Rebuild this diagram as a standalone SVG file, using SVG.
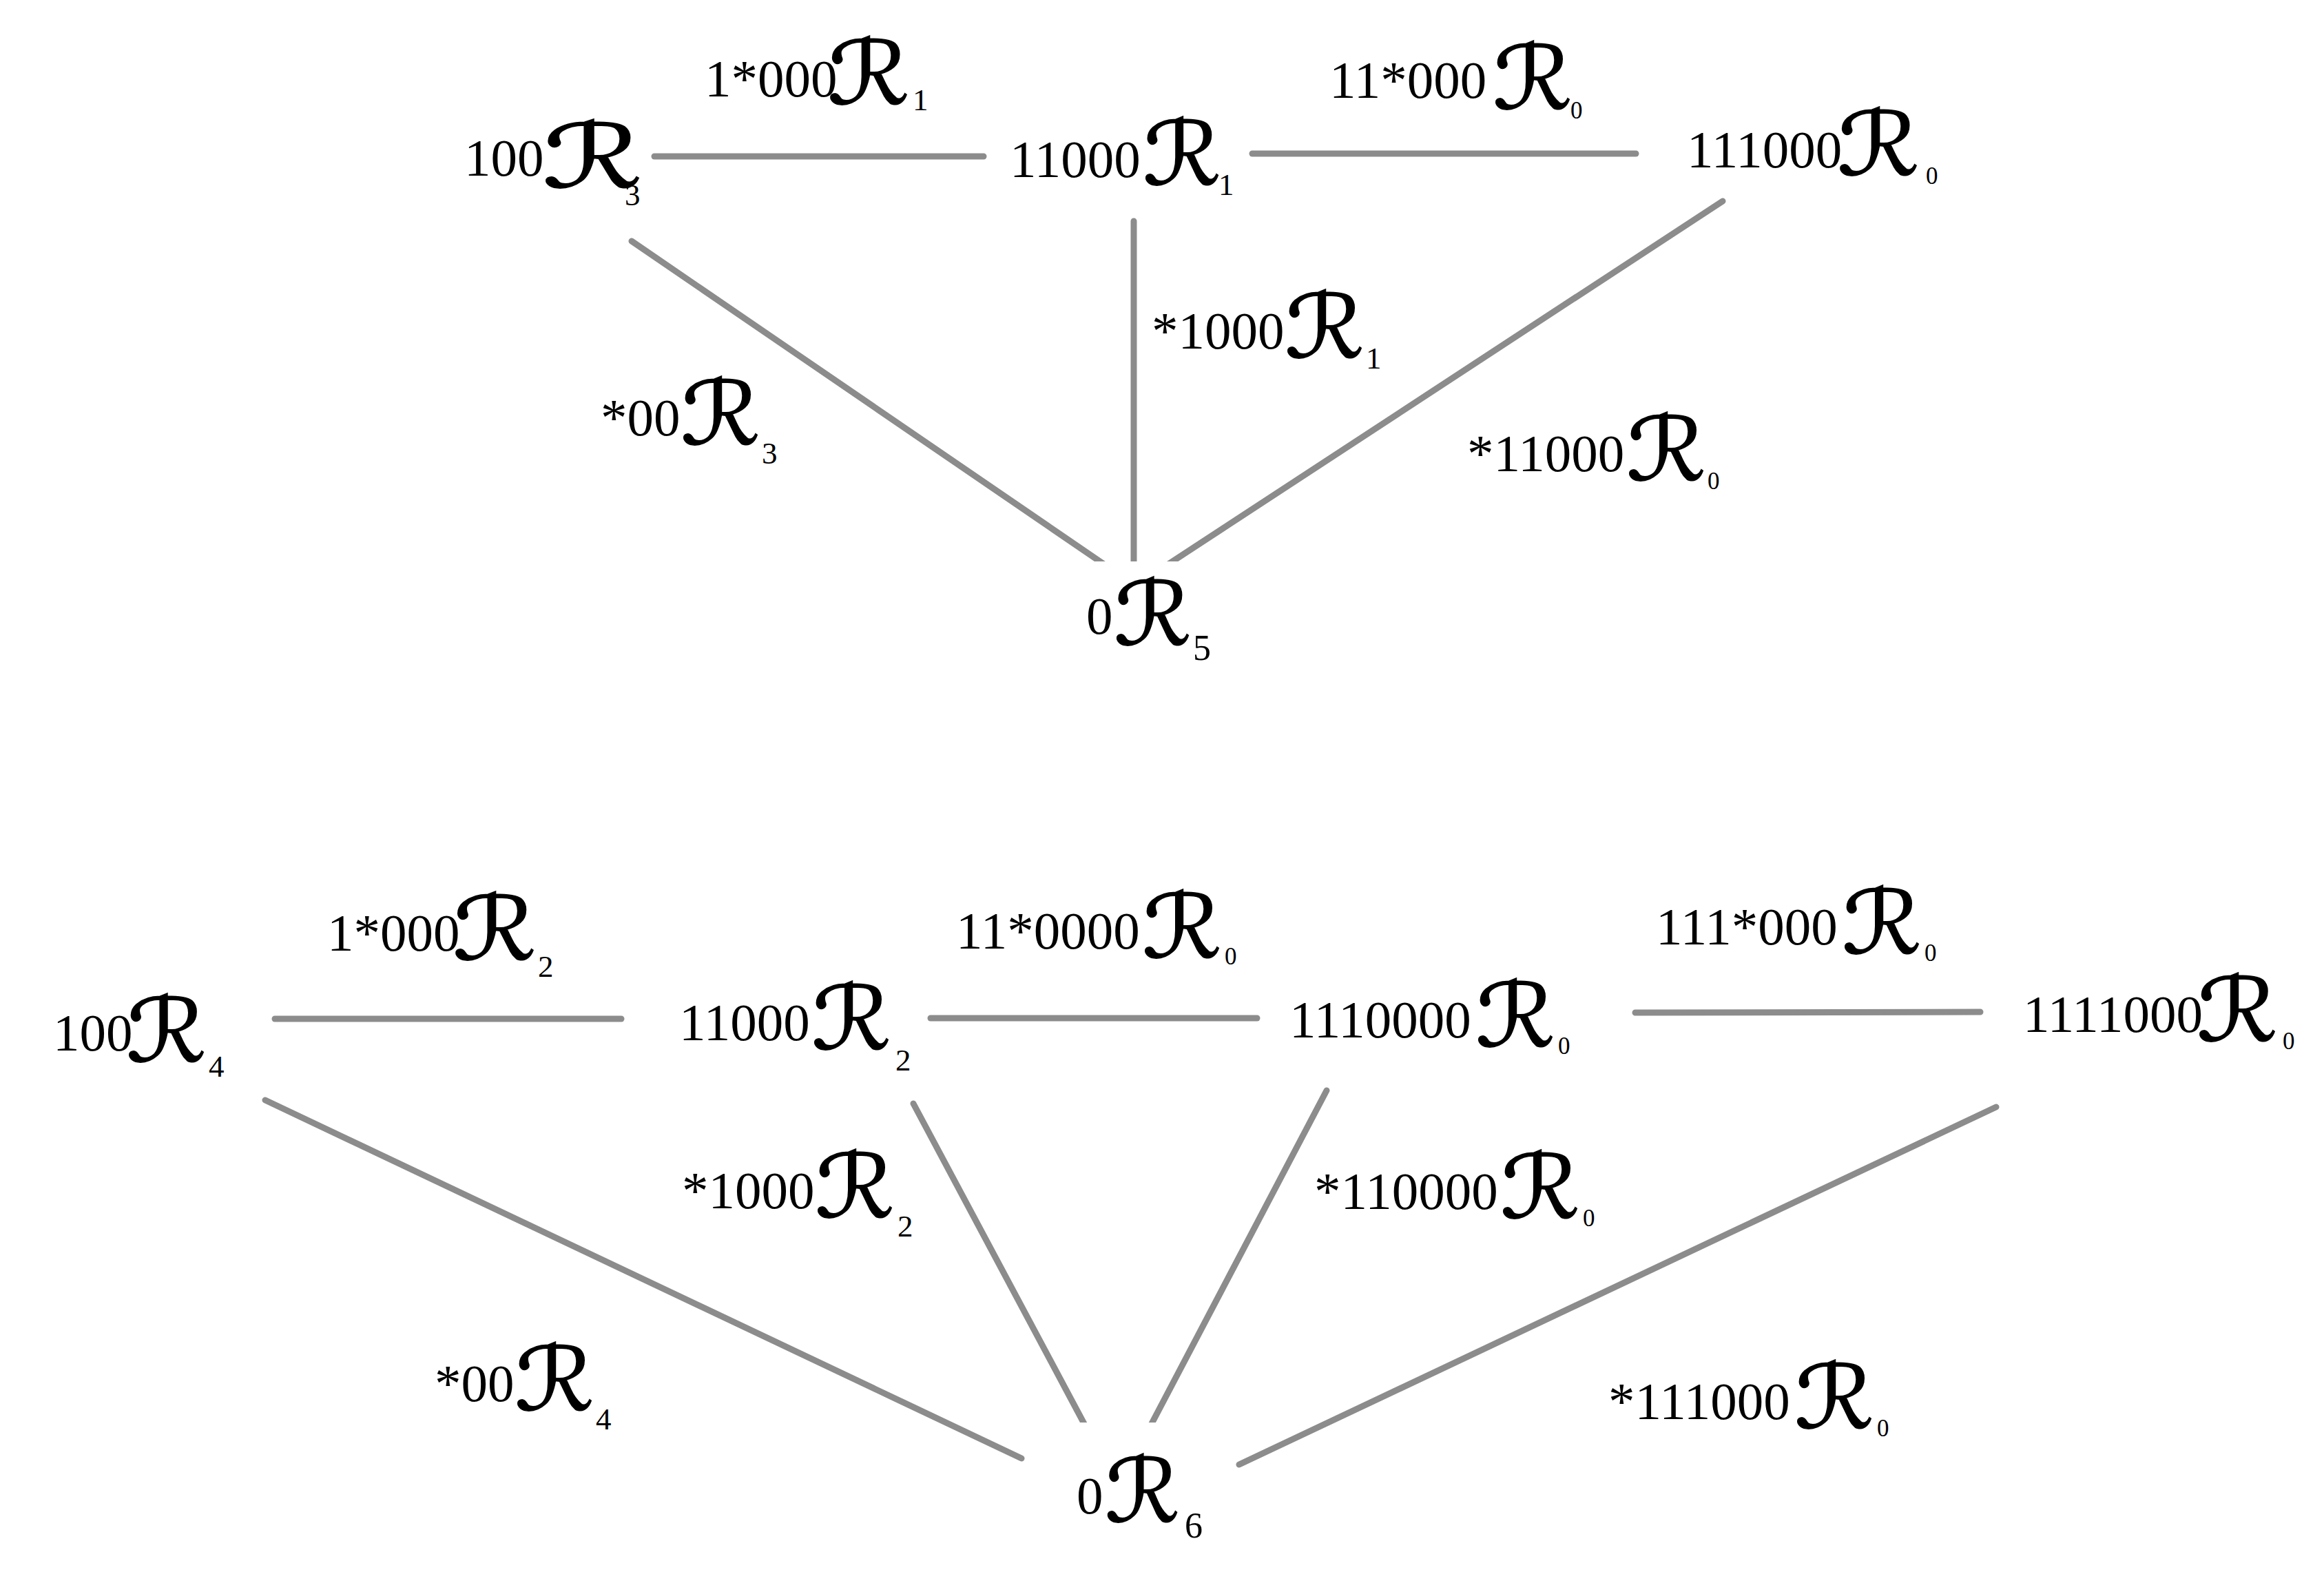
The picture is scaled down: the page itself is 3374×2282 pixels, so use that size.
<svg xmlns="http://www.w3.org/2000/svg" width="3374" height="2282" viewBox="0 0 3374 2282">
<style>
.d{font-family:"Liberation Serif","Times New Roman",serif;font-size:77px;fill:#000}
.r{font-family:"DejaVu Serif","DejaVu Sans",serif;font-size:128px;fill:#000;stroke:#000;stroke-width:1.5}
.s{font-family:"Liberation Serif","Times New Roman",serif;font-size:45px;fill:#000}
.z{font-family:"Liberation Serif","Times New Roman",serif;font-size:35px;fill:#000}
.e{stroke:#8c8c8c;stroke-width:9;stroke-linecap:round;fill:none}
</style>
<defs>
<clipPath id="ct"><rect x="0" y="0" width="3374" height="815"/></clipPath>
<clipPath id="cb"><rect x="0" y="1000" width="3374" height="1065"/></clipPath>
</defs>
<rect width="3374" height="2282" fill="#fff"/>
<g id="connectors">
<line class="e" x1="950" y1="227" x2="1428" y2="227"/>
<line class="e" x1="1818" y1="223" x2="2375" y2="223"/>
<g clip-path="url(#ct)">
<line class="e" x1="917" y1="350" x2="1610" y2="824"/>
<line class="e" x1="1646" y1="321" x2="1646" y2="830"/>
<line class="e" x1="2501" y1="292" x2="1690" y2="823"/>
</g>
<line class="e" x1="399" y1="1479" x2="902" y2="1479"/>
<line class="e" x1="1351" y1="1478" x2="1825" y2="1478"/>
<line class="e" x1="2374" y1="1470" x2="2875" y2="1469"/>
<line class="e" x1="385" y1="1597" x2="1483" y2="2117"/>
<line class="e" x1="2898" y1="1607" x2="1799" y2="2126"/>
<g clip-path="url(#cb)">
<line class="e" x1="1326" y1="1602" x2="1580" y2="2078"/>
<line class="e" x1="1926" y1="1583" x2="1666" y2="2078"/>
</g>
</g>
<g id="n100R3"><text class="d" x="674" y="255">100</text><text class="r" x="787" y="272" textLength="146" lengthAdjust="spacingAndGlyphs">ℛ</text><text class="s" x="907" y="298">3</text></g>
<g id="n11000R1"><text class="d" x="1466" y="257">11000</text><text class="r" x="1659" y="268" textLength="114" lengthAdjust="spacingAndGlyphs">ℛ</text><text class="s" x="1769" y="283">1</text></g>
<g id="n111000R0"><text class="d" x="2449" y="243">111000</text><text class="r" x="2667" y="254" textLength="120" lengthAdjust="spacingAndGlyphs">ℛ</text><text class="z" x="2796" y="267">0</text></g>
<g id="n0R5"><text class="d" x="1577" y="920">0</text><text class="r" x="1617" y="936" textLength="113" lengthAdjust="spacingAndGlyphs">ℛ</text><text class="s" x="1732" y="958" style="font-size:52px">5</text></g>
<g id="e1"><text class="d" x="1023" y="140">1*000</text><text class="r" x="1201" y="151" textLength="120" lengthAdjust="spacingAndGlyphs">ℛ</text><text class="s" x="1325" y="160">1</text></g>
<g id="e2"><text class="d" x="1930" y="142">11*000</text><text class="r" x="2167" y="158" textLength="116" lengthAdjust="spacingAndGlyphs">ℛ</text><text class="z" x="2280" y="172">0</text></g>
<g id="e3"><text class="d" x="872" y="632">*00</text><text class="r" x="988" y="645" textLength="116" lengthAdjust="spacingAndGlyphs">ℛ</text><text class="s" x="1106" y="673">3</text></g>
<g id="e4"><text class="d" x="1672" y="506">*1000</text><text class="r" x="1865" y="519" textLength="116" lengthAdjust="spacingAndGlyphs">ℛ</text><text class="s" x="1983" y="535">1</text></g>
<g id="e5"><text class="d" x="2130" y="684">*11000</text><text class="r" x="2361" y="697" textLength="116" lengthAdjust="spacingAndGlyphs">ℛ</text><text class="z" x="2479" y="710">0</text></g>
<g id="n100R4"><text class="d" x="77" y="1525">100</text><text class="r" x="183" y="1541" textLength="117" lengthAdjust="spacingAndGlyphs">ℛ</text><text class="s" x="303" y="1563">4</text></g>
<g id="n11000R2"><text class="d" x="986" y="1510">11000</text><text class="r" x="1178" y="1523" textLength="116" lengthAdjust="spacingAndGlyphs">ℛ</text><text class="s" x="1300" y="1554">2</text></g>
<g id="n1110000R0"><text class="d" x="1872" y="1506">1110000</text><text class="r" x="2142" y="1519" textLength="116" lengthAdjust="spacingAndGlyphs">ℛ</text><text class="z" x="2262" y="1530">0</text></g>
<g id="n1111000R0"><text class="d" x="2937" y="1498">1111000</text><text class="r" x="3189" y="1511" textLength="118" lengthAdjust="spacingAndGlyphs">ℛ</text><text class="z" x="3314" y="1523">0</text></g>
<g id="n0R6"><text class="d" x="1563" y="2197">0</text><text class="r" x="1604" y="2209" textLength="109" lengthAdjust="spacingAndGlyphs">ℛ</text><text class="s" x="1720" y="2232" style="font-size:52px">6</text></g>
<g id="e6"><text class="d" x="475" y="1380">1*000</text><text class="r" x="657" y="1393" textLength="122" lengthAdjust="spacingAndGlyphs">ℛ</text><text class="s" x="781" y="1418">2</text></g>
<g id="e7"><text class="d" x="1388" y="1377">11*0000</text><text class="r" x="1658" y="1390" textLength="116" lengthAdjust="spacingAndGlyphs">ℛ</text><text class="z" x="1778" y="1400">0</text></g>
<g id="e8"><text class="d" x="2404" y="1371">111*000</text><text class="r" x="2674" y="1384" textLength="116" lengthAdjust="spacingAndGlyphs">ℛ</text><text class="z" x="2794" y="1395">0</text></g>
<g id="e9"><text class="d" x="990" y="1754">*1000</text><text class="r" x="1183" y="1767" textLength="116" lengthAdjust="spacingAndGlyphs">ℛ</text><text class="s" x="1303" y="1795">2</text></g>
<g id="e10"><text class="d" x="1908" y="1755">*110000</text><text class="r" x="2178" y="1768" textLength="116" lengthAdjust="spacingAndGlyphs">ℛ</text><text class="z" x="2298" y="1780">0</text></g>
<g id="e11"><text class="d" x="631" y="2034">*00</text><text class="r" x="747" y="2047" textLength="116" lengthAdjust="spacingAndGlyphs">ℛ</text><text class="s" x="865" y="2075">4</text></g>
<g id="e12"><text class="d" x="2335" y="2060">*111000</text><text class="r" x="2605" y="2073" textLength="116" lengthAdjust="spacingAndGlyphs">ℛ</text><text class="z" x="2725" y="2085">0</text></g>
</svg>
